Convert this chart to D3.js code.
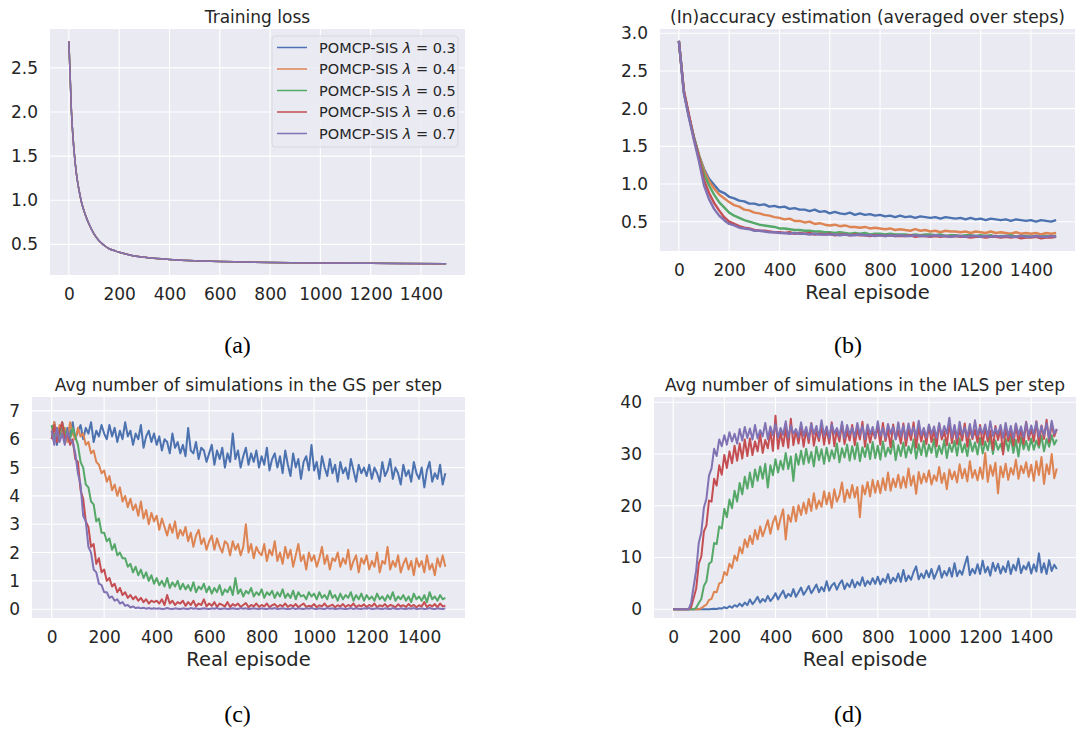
<!DOCTYPE html>
<html>
<head>
<meta charset="utf-8">
<script src="https://cdn.jsdelivr.net/npm/d3@7"></script>
<style>
  body { margin: 0; background: #fff; }
  text { font-family: "DejaVu Sans", sans-serif; fill: #262626; }
  .caption { font-family: "Liberation Serif", "Times New Roman", serif; fill: #000; }
</style>
</head>
<body>
<div id="chart"></div>
<script>
// series names and colours (seaborn deep)
const lambdas = ['0.3', '0.4', '0.5', '0.6', '0.7'];
const colors = ['#4c72b0', '#dd8452', '#55a868', '#c44e52', '#8172b3'];

// (a) training loss, same curve for every lambda
const lossEpisodes = [0, 10, 20, 30, 40, 50, 60, 70, 80, 100, 120, 140, 160, 180, 200, 250, 300, 350, 400, 500, 600, 700, 800, 1000, 1200, 1500];
const lossValues = [2.80, 2.02, 1.58, 1.30, 1.12, 0.98, 0.88, 0.80, 0.73, 0.62, 0.54, 0.49, 0.45, 0.43, 0.41, 0.375, 0.355, 0.34, 0.33, 0.315, 0.305, 0.30, 0.295, 0.29, 0.285, 0.28];

// sampled episodes: every 20 for (b), every 10 for (c) and (d)
const episodes20 = d3.range(0, 1501, 20);
const episodes10 = d3.range(0, 1501, 10);

// (b) inaccuracy estimation
const inacc03 = [2.90, 2.22, 1.90, 1.62, 1.38, 1.20, 1.07, 0.99, 0.91, 0.88, 0.83, 0.81, 0.78, 0.77, 0.74, 0.74, 0.72, 0.73, 0.70, 0.71,
  0.69, 0.70, 0.67, 0.68, 0.66, 0.66, 0.64, 0.66, 0.63, 0.64, 0.61, 0.63, 0.61, 0.60, 0.62, 0.59, 0.61, 0.59, 0.60, 0.58,
  0.59, 0.57, 0.58, 0.56, 0.58, 0.56, 0.57, 0.55, 0.57, 0.56, 0.55, 0.56, 0.54, 0.56, 0.55, 0.54, 0.55, 0.53, 0.55, 0.53,
  0.54, 0.52, 0.54, 0.53, 0.52, 0.53, 0.51, 0.53, 0.52, 0.51, 0.52, 0.50, 0.52, 0.51, 0.50, 0.52];
const inacc04 = [2.90, 2.22, 1.90, 1.62, 1.38, 1.18, 1.04, 0.94, 0.86, 0.81, 0.76, 0.72, 0.70, 0.66, 0.65, 0.62, 0.61, 0.59, 0.58, 0.56,
  0.55, 0.53, 0.54, 0.51, 0.51, 0.49, 0.50, 0.47, 0.48, 0.46, 0.45, 0.46, 0.44, 0.45, 0.43, 0.43, 0.42, 0.43, 0.41, 0.42,
  0.41, 0.40, 0.41, 0.39, 0.40, 0.39, 0.38, 0.40, 0.38, 0.39, 0.37, 0.38, 0.36, 0.38, 0.37, 0.37, 0.36, 0.37, 0.35, 0.37,
  0.36, 0.35, 0.37, 0.35, 0.36, 0.35, 0.34, 0.36, 0.34, 0.35, 0.34, 0.35, 0.33, 0.35, 0.34, 0.35];
const inacc05 = [2.90, 2.22, 1.90, 1.62, 1.37, 1.13, 0.98, 0.86, 0.76, 0.69, 0.62, 0.58, 0.55, 0.52, 0.50, 0.48, 0.46, 0.45, 0.44, 0.43,
  0.41, 0.41, 0.40, 0.39, 0.39, 0.38, 0.38, 0.37, 0.37, 0.36, 0.36, 0.35, 0.36, 0.35, 0.34, 0.35, 0.34, 0.35, 0.33, 0.34,
  0.34, 0.33, 0.34, 0.33, 0.33, 0.33, 0.32, 0.33, 0.32, 0.33, 0.33, 0.32, 0.33, 0.31, 0.32, 0.32, 0.31, 0.32, 0.32, 0.31,
  0.32, 0.31, 0.32, 0.30, 0.31, 0.31, 0.32, 0.30, 0.31, 0.31, 0.30, 0.31, 0.30, 0.31, 0.30, 0.31];
const inacc06 = [2.90, 2.24, 1.92, 1.60, 1.35, 1.05, 0.88, 0.75, 0.65, 0.56, 0.50, 0.47, 0.44, 0.42, 0.41, 0.39, 0.38, 0.38, 0.37, 0.36,
  0.36, 0.35, 0.36, 0.34, 0.35, 0.34, 0.35, 0.33, 0.34, 0.33, 0.34, 0.32, 0.33, 0.33, 0.32, 0.33, 0.32, 0.32, 0.31, 0.32,
  0.32, 0.31, 0.32, 0.31, 0.31, 0.31, 0.32, 0.30, 0.31, 0.31, 0.30, 0.31, 0.30, 0.31, 0.30, 0.31, 0.30, 0.30, 0.29, 0.30,
  0.30, 0.29, 0.30, 0.30, 0.29, 0.30, 0.29, 0.30, 0.28, 0.29, 0.29, 0.30, 0.28, 0.29, 0.29, 0.30];
const inacc07 = [2.90, 2.20, 1.88, 1.58, 1.30, 0.98, 0.80, 0.67, 0.58, 0.52, 0.47, 0.45, 0.42, 0.41, 0.40, 0.38, 0.38, 0.37, 0.36, 0.36,
  0.35, 0.35, 0.34, 0.35, 0.34, 0.34, 0.33, 0.34, 0.33, 0.33, 0.33, 0.33, 0.32, 0.33, 0.32, 0.32, 0.33, 0.32, 0.32, 0.31,
  0.32, 0.31, 0.32, 0.31, 0.32, 0.31, 0.31, 0.32, 0.31, 0.31, 0.31, 0.32, 0.31, 0.31, 0.30, 0.31, 0.31, 0.30, 0.31, 0.31,
  0.30, 0.31, 0.30, 0.31, 0.30, 0.31, 0.30, 0.30, 0.31, 0.30, 0.30, 0.31, 0.30, 0.30, 0.31, 0.30];

// (c) avg number of simulations in the GS per step (every 10 episodes)
const gs03 = [6.0, 6.6, 5.8, 6.3, 6.5, 5.9, 6.4, 6.1, 6.6, 6.0,
  6.3, 6.5, 6.0, 6.4, 6.2, 6.6, 5.9, 6.3, 6.1, 6.5,
  6.2, 6.0, 6.5, 6.1, 6.4, 5.9, 6.3, 6.0, 6.6, 6.1,
  6.3, 5.8, 6.2, 6.0, 6.5, 5.7, 6.1, 6.3, 5.9, 6.2,
  5.8, 6.1, 5.6, 6.0, 5.9, 5.5, 6.2, 5.7, 5.9, 5.5,
  5.8, 5.4, 6.4, 5.6, 5.5, 5.9, 5.3, 5.7, 5.6, 5.2,
  5.5, 5.8, 5.1, 5.6, 5.3, 5.7, 5.0, 5.5, 5.2, 6.2,
  5.3, 5.6, 5.0, 5.4, 5.7, 5.1, 5.5, 5.2, 5.6, 5.0,
  5.4, 5.1, 5.7, 4.9, 5.3, 5.5, 5.0, 5.4, 4.8, 5.6,
  5.1, 4.7, 5.5, 5.0, 5.3, 4.6, 5.2, 5.4, 4.9, 5.8,
  4.9, 5.2, 4.6, 5.4, 5.0, 4.7, 5.3, 4.8, 5.1, 4.5,
  5.2, 4.8, 5.0, 4.6, 5.3, 4.9, 4.5, 5.1, 4.8, 5.0,
  4.7, 5.1, 4.6, 5.0, 4.8, 4.5, 5.2, 4.7, 4.9, 5.3,
  4.6, 5.0, 4.8, 4.4, 5.1, 4.7, 4.9, 4.5, 5.2, 4.8,
  4.6, 5.0, 4.3, 4.9, 5.2, 4.5, 4.8, 4.6, 5.1, 4.4,
  4.8];
const gs04 = [6.2, 6.6, 6.0, 6.5, 6.1, 6.4, 5.9, 6.6, 6.2, 6.0,
  6.4, 6.1, 6.2, 5.8, 5.9, 5.5, 5.6, 5.2, 5.1, 4.8,
  4.9, 4.5, 4.7, 4.2, 4.4, 4.0, 4.3, 3.8, 4.0, 3.6,
  3.9, 3.5, 3.7, 3.3, 3.8, 3.2, 3.5, 3.0, 3.4, 3.1,
  3.3, 2.8, 3.2, 2.9, 2.6, 3.0, 2.7, 3.1, 2.5, 2.8,
  2.6, 2.9, 2.4, 2.7, 2.2, 2.6, 2.8, 2.3, 2.5, 2.1,
  2.4, 2.6, 2.1, 2.5, 2.2, 2.0, 2.4, 2.3, 1.9, 2.4,
  2.1, 2.3, 1.9, 2.2, 3.0, 2.0, 2.3, 1.8, 2.2, 2.0,
  1.9, 2.3, 1.7, 2.1, 1.9, 2.4, 1.7, 2.0, 1.6, 2.2,
  1.8, 2.1, 1.5, 1.9, 2.3, 1.7, 1.9, 1.4, 2.0, 1.7,
  1.9, 1.5, 1.8, 2.2, 1.6, 1.9, 1.4, 1.8, 1.7, 2.0,
  1.5, 1.8, 1.6, 2.1, 1.4, 1.7, 1.9, 1.3, 1.8, 1.6,
  1.9, 1.4, 1.7, 1.5, 2.0, 1.3, 1.7, 1.6, 2.2, 1.4,
  1.7, 1.5, 1.9, 1.3, 1.6, 1.8, 1.4, 1.7, 1.2, 1.8,
  1.5, 1.7, 1.3, 1.9, 1.4, 1.6, 1.2, 1.8, 1.5, 1.9,
  1.5];
const gs05 = [6.5, 6.0, 6.4, 6.1, 6.6, 6.2, 6.3, 6.0, 6.4, 6.1,
  5.8, 5.2, 5.0, 4.4, 4.3, 3.8, 3.7, 3.1, 3.2, 2.7,
  2.7, 2.4, 2.5, 2.1, 2.3, 1.9, 2.0, 1.8, 1.8, 1.5,
  1.6, 1.3, 1.5, 1.2, 1.4, 1.1, 1.3, 1.0, 1.2, 0.9,
  1.1, 0.85, 1.0, 0.8, 1.1, 0.75, 0.95, 0.8, 1.0, 0.7,
  0.9, 0.7, 0.85, 0.65, 0.95, 0.6, 0.8, 0.7, 0.9, 0.6,
  0.8, 0.55, 0.75, 0.6, 0.85, 0.5, 0.7, 0.6, 0.8, 0.5,
  1.1, 0.55, 0.7, 0.45, 0.65, 0.55, 0.75, 0.45, 0.6, 0.5,
  0.7, 0.4, 0.6, 0.5, 0.65, 0.4, 0.6, 0.45, 0.7, 0.4,
  0.55, 0.4, 0.65, 0.35, 0.6, 0.45, 0.5, 0.35, 0.6, 0.45,
  0.55, 0.35, 0.6, 0.4, 0.5, 0.35, 0.65, 0.4, 0.5, 0.3,
  0.55, 0.35, 0.5, 0.4, 0.6, 0.3, 0.5, 0.35, 0.55, 0.3,
  0.5, 0.35, 0.45, 0.3, 0.55, 0.35, 0.45, 0.3, 0.5, 0.35,
  0.6, 0.3, 0.45, 0.35, 0.5, 0.3, 0.45, 0.25, 0.55, 0.35,
  0.45, 0.3, 0.5, 0.25, 0.6, 0.35, 0.45, 0.3, 0.5, 0.35,
  0.4];
const gs06 = [6.0, 6.5, 5.9, 6.3, 6.6, 6.0, 6.2, 5.8, 6.0, 5.3,
  5.2, 4.2, 3.9, 3.1, 2.9, 2.2, 2.3, 1.6, 1.8, 1.3,
  1.4, 1.0, 1.1, 0.8, 0.9, 0.6, 0.75, 0.5, 0.6, 0.4,
  0.5, 0.35, 0.45, 0.3, 0.4, 0.25, 0.35, 0.2, 0.3, 0.25,
  0.3, 0.2, 0.35, 0.15, 0.5, 0.2, 0.3, 0.15, 0.25, 0.2,
  0.3, 0.12, 0.25, 0.15, 0.3, 0.1, 0.2, 0.15, 0.35, 0.1,
  0.2, 0.12, 0.25, 0.08, 0.2, 0.15, 0.1, 0.25, 0.08, 0.18,
  0.12, 0.2, 0.08, 0.15, 0.22, 0.07, 0.15, 0.1, 0.2, 0.08,
  0.15, 0.1, 0.2, 0.07, 0.14, 0.18, 0.08, 0.15, 0.1, 0.2,
  0.08, 0.15, 0.1, 0.18, 0.07, 0.14, 0.2, 0.08, 0.12, 0.1,
  0.18, 0.07, 0.14, 0.1, 0.2, 0.08, 0.12, 0.16, 0.07, 0.14,
  0.1, 0.18, 0.08, 0.15, 0.1, 0.2, 0.07, 0.14, 0.1, 0.17,
  0.08, 0.15, 0.1, 0.2, 0.07, 0.14, 0.1, 0.18, 0.08, 0.15,
  0.12, 0.07, 0.17, 0.1, 0.14, 0.08, 0.18, 0.1, 0.15, 0.07,
  0.14, 0.1, 0.25, 0.08, 0.15, 0.1, 0.18, 0.07, 0.2, 0.1,
  0.12];
const gs07 = [6.3, 5.8, 6.4, 5.9, 6.2, 5.8, 6.3, 6.0, 5.9, 5.5,
  4.8, 4.4, 3.3, 3.1, 2.2, 2.0, 1.4, 1.3, 0.9, 0.85,
  0.6, 0.6, 0.4, 0.45, 0.3, 0.35, 0.2, 0.25, 0.12, 0.15,
  0.06, 0.1, 0.04, 0.06, 0.03, 0.05, 0.02, 0.04, 0.02, 0.03,
  0.02, 0.03, 0.01, 0.02, 0.04, 0.02, 0.01, 0.03, 0.02, 0.01,
  0.03, 0.02, 0.01, 0.04, 0.02, 0.03, 0.01, 0.02, 0.03, 0.02,
  0.01, 0.03, 0.02, 0.04, 0.01, 0.02, 0.03, 0.01, 0.02, 0.03,
  0.02, 0.01, 0.04, 0.02, 0.03, 0.01, 0.02, 0.03, 0.02, 0.01,
  0.03, 0.02, 0.01, 0.03, 0.02, 0.04, 0.01, 0.02, 0.03, 0.02,
  0.01, 0.02, 0.04, 0.01, 0.03, 0.02, 0.01, 0.03, 0.02, 0.04,
  0.02, 0.01, 0.03, 0.02, 0.01, 0.04, 0.02, 0.03, 0.01, 0.02,
  0.03, 0.02, 0.01, 0.02, 0.04, 0.01, 0.03, 0.02, 0.01, 0.03,
  0.02, 0.04, 0.01, 0.02, 0.03, 0.02, 0.01, 0.03, 0.02, 0.01,
  0.04, 0.02, 0.01, 0.03, 0.02, 0.01, 0.03, 0.02, 0.04, 0.01,
  0.02, 0.03, 0.01, 0.02, 0.04, 0.02, 0.01, 0.03, 0.02, 0.01,
  0.03];

// (d) avg number of simulations in the IALS per step (every 10 episodes)
const ials03 = [0, 0, 0, 0, 0, 0, 0, 0, 0, 0,
  0, 0, 0, 0, 0, 0.05, 0.1, 0.05, 0.2, 0.15,
  0.4, 0.2, 0.6, 0.3, 0.8, 0.5, 1.1, 0.6, 1.3, 0.8,
  1.9, 1.0, 1.6, 2.4, 1.3, 2.0, 1.5, 2.6, 1.6, 2.2,
  3.1, 1.9, 2.8, 3.6, 2.2, 3.0, 2.5, 3.9, 2.4, 3.3,
  4.2, 2.8, 3.6, 4.5, 3.1, 3.9, 4.8, 3.3, 4.3, 3.5,
  5.4, 3.6, 4.6, 5.1, 3.8, 4.9, 5.6, 3.9, 5.0, 4.3,
  5.7, 4.2, 5.3, 4.6, 6.2, 4.5, 5.5, 4.8, 6.0, 4.9,
  6.3, 4.8, 5.9, 5.2, 6.8, 5.0, 6.1, 5.4, 6.9, 5.3,
  7.6, 5.4, 6.5, 5.7, 7.2, 8.3, 5.8, 6.9, 6.0, 7.5,
  6.2, 7.8, 5.9, 7.1, 8.4, 6.1, 7.4, 6.5, 8.0, 6.3,
  8.9, 6.4, 7.5, 6.7, 8.6, 10.2, 6.6, 7.8, 6.9, 8.7,
  6.8, 9.4, 7.1, 8.2, 6.5, 9.0, 7.4, 8.8, 6.9, 8.3,
  7.2, 9.3, 6.8, 8.6, 7.5, 9.8, 7.0, 8.4, 7.7, 9.1,
  6.9, 8.7, 7.3, 10.8, 7.1, 8.9, 6.8, 9.5, 7.4, 8.6,
  7.8];
const ials04 = [0, 0, 0, 0, 0, 0, 0, 0, 0, 0,
  0, 0.2, 0.6, 0.9, 1.8, 2.0, 3.4, 3.3, 5.0, 5.2,
  7.2, 6.6, 8.8, 8.0, 10.4, 9.4, 12.0, 10.8, 13.5, 12.0,
  14.2, 12.6, 15.3, 13.5, 16.0, 14.1, 15.6, 17.2, 14.6, 16.8,
  18.0, 15.4, 17.6, 19.3, 13.5, 18.2, 16.9, 19.8, 17.0, 20.1,
  18.2, 20.6, 18.5, 21.3, 19.0, 22.4, 19.4, 21.0, 19.8, 22.8,
  20.3, 22.5, 19.6, 23.2, 20.8, 22.0, 24.5, 20.7, 23.1, 21.5,
  24.0, 21.6, 23.6, 17.8, 23.9, 22.2, 24.6, 21.8, 25.0, 22.5,
  24.8, 22.4, 25.3, 23.0, 26.4, 22.9, 25.2, 23.6, 26.0, 23.4,
  25.6, 23.5, 27.2, 23.9, 25.8, 22.3, 26.5, 24.3, 26.2, 24.6,
  26.8, 24.1, 25.9, 24.8, 27.5, 24.4, 26.3, 23.2, 27.0, 25.1,
  26.6, 24.5, 28.0, 25.3, 27.1, 24.7, 28.6, 25.4, 26.9, 24.9,
  27.4, 25.2, 30.2, 24.6, 27.8, 25.8, 28.3, 22.4, 27.6, 25.5,
  28.1, 25.0, 27.3, 26.0, 28.9, 25.2, 27.7, 26.3, 28.4, 25.6,
  27.9, 24.8, 28.6, 25.9, 29.4, 24.2, 28.0, 26.1, 30.0, 25.3,
  27.2];
const ials05 = [0, 0, 0, 0, 0, 0, 0, 0, 0, 0.3,
  1.2, 2.0, 4.5, 5.4, 8.8, 9.2, 12.8, 12.6, 16.0, 15.6,
  19.4, 17.8, 21.2, 19.5, 22.9, 20.8, 24.4, 22.2, 25.6, 23.3,
  26.4, 23.6, 27.0, 24.8, 27.6, 25.2, 28.1, 23.5, 27.8, 25.9,
  29.0, 26.4, 28.7, 27.0, 30.2, 27.1, 29.5, 24.8, 30.0, 27.9,
  30.6, 28.0, 31.0, 28.3, 30.4, 27.6, 31.4, 28.8, 30.9, 28.1,
  31.2, 28.6, 30.7, 29.1, 32.0, 28.4, 31.1, 29.3, 31.8, 28.7,
  31.5, 29.0, 32.1, 28.6, 31.3, 29.4, 31.9, 29.0, 32.3, 29.2,
  31.6, 28.9, 32.4, 29.5, 31.2, 30.0, 32.6, 28.8, 31.7, 29.6,
  32.2, 29.3, 31.5, 30.1, 32.8, 29.1, 31.9, 29.8, 32.5, 29.5,
  31.8, 30.2, 32.9, 29.4, 31.6, 30.0, 32.7, 29.2, 32.0, 30.4,
  32.5, 29.7, 33.0, 30.3, 31.9, 29.6, 32.8, 30.5, 32.2, 29.9,
  33.1, 30.1, 32.4, 30.7, 33.3, 30.0, 32.6, 30.8, 31.9, 30.3,
  32.9, 30.6, 33.4, 30.2, 32.7, 29.5, 33.2, 30.9, 32.5, 30.7,
  33.0, 30.8, 32.6, 31.2, 33.5, 30.5, 32.9, 31.4, 33.6, 31.8,
  32.8];
const ials06 = [0, 0, 0, 0, 0, 0, 0, 0.4, 2.2, 4.0,
  8.8, 10.2, 15.0, 16.2, 21.0, 20.8, 25.2, 23.9, 27.8, 26.0,
  29.8, 27.3, 30.5, 28.2, 31.6, 28.7, 32.0, 29.1, 32.8, 29.6,
  33.0, 29.8, 32.4, 30.5, 33.9, 30.2, 32.7, 31.1, 34.5, 30.6,
  37.4, 31.0, 34.2, 31.5, 35.0, 31.2, 36.8, 31.7, 34.6, 32.0,
  35.2, 31.4, 34.8, 32.1, 36.0, 31.6, 34.4, 32.5, 35.5, 31.8,
  35.0, 32.0, 36.1, 31.5, 34.7, 32.4, 35.8, 31.9, 34.5, 32.6,
  35.6, 31.7, 34.9, 32.8, 36.2, 31.4, 35.1, 32.2, 34.6, 33.0,
  35.4, 31.8, 36.0, 32.5, 34.8, 31.3, 35.7, 32.9, 34.5, 32.0,
  35.9, 31.6, 34.7, 32.7, 36.1, 31.2, 35.2, 32.4, 34.9, 31.9,
  35.5, 32.3, 34.6, 31.5, 35.8, 32.8, 34.4, 31.7, 36.0, 32.1,
  35.3, 31.9, 34.8, 32.6, 35.9, 31.4, 35.0, 32.9, 34.7, 32.2,
  35.6, 31.8, 35.1, 32.4, 34.5, 30.8, 35.4, 32.7, 34.9, 29.9,
  35.2, 32.5, 34.6, 31.6, 35.7, 32.2, 34.8, 31.9, 36.2, 32.7,
  35.0, 32.4, 36.3, 31.8, 35.5, 32.9, 36.6, 32.3, 35.9, 33.4,
  34.8];
const ials07 = [0, 0, 0, 0, 0, 0, 0, 1.2, 4.4, 7.5,
  12.8, 14.9, 19.6, 21.4, 25.8, 27.2, 31.0, 29.6, 32.8, 31.5,
  33.6, 31.8, 34.2, 32.4, 33.9, 32.0, 34.8, 32.6, 35.2, 33.1,
  34.9, 32.8, 35.6, 33.0, 34.6, 33.4, 36.0, 32.9, 35.3, 33.6,
  35.8, 33.2, 35.0, 33.7, 36.3, 33.1, 35.5, 33.9, 34.8, 33.3,
  36.1, 33.5, 35.2, 33.0, 35.9, 33.8, 35.4, 33.2, 36.5, 33.6,
  35.3, 33.1, 35.8, 33.9, 35.0, 33.4, 36.2, 33.0, 35.6, 33.7,
  35.1, 33.3, 36.0, 33.6, 35.4, 32.9, 35.7, 33.8, 35.2, 33.2,
  36.3, 33.5, 35.0, 33.1, 35.8, 33.9, 35.3, 32.8, 36.1, 33.4,
  35.5, 33.0, 35.9, 33.7, 35.2, 33.3, 36.4, 33.6, 35.0, 33.2,
  35.7, 33.8, 35.3, 33.1, 36.0, 33.5, 35.4, 33.9, 37.0, 33.3,
  35.6, 33.0, 36.2, 33.7, 35.1, 33.4, 35.8, 33.2, 36.5, 33.6,
  35.2, 33.9, 35.7, 33.3, 36.3, 33.5, 35.0, 33.8, 35.6, 33.1,
  36.0, 33.4, 35.4, 33.0, 35.9, 33.7, 35.3, 33.2, 36.1, 33.5,
  35.5, 33.8, 36.2, 33.3, 35.4, 33.6, 35.9, 33.0, 36.4, 33.9,
  34.8];

// tick values
const xTicks = [0, 200, 400, 600, 800, 1000, 1200, 1400];
const lossTicks = [0.5, 1.0, 1.5, 2.0, 2.5];
const inaccTicks = [0.5, 1.0, 1.5, 2.0, 2.5, 3.0];
const gsTicks = [0, 1, 2, 3, 4, 5, 6, 7];
const ialsTicks = [0, 10, 20, 30, 40];

const W = 1083, H = 730;
const svg = d3.select('#chart').append('svg')
    .attr('width', W)
    .attr('height', H)
    .style('display', 'block');

function panel(p) {
    const x = d3.scaleLinear().domain([-75, 1575]).range([p.left, p.right]);
    const y = d3.scaleLinear().domain(p.yDomain).range([p.bottom, p.top]);
    const g = svg.append('g');

    g.append('rect')
        .attr('x', p.left).attr('y', p.top)
        .attr('width', p.right - p.left).attr('height', p.bottom - p.top)
        .attr('fill', '#eaeaf2');

    // grid
    g.selectAll('.gx').data(xTicks).join('line')
        .attr('x1', d => x(d)).attr('x2', d => x(d))
        .attr('y1', p.top).attr('y2', p.bottom)
        .attr('stroke', '#fff').attr('stroke-width', 1.1);
    g.selectAll('.gy').data(p.yTicks).join('line')
        .attr('x1', p.left).attr('x2', p.right)
        .attr('y1', d => y(d)).attr('y2', d => y(d))
        .attr('stroke', '#fff').attr('stroke-width', 1.1);

    // lines, purple drawn last
    const line = d3.line()
        .defined(d => d[1] != null)
        .x(d => x(d[0]))
        .y(d => y(d[1]));
    if (p.curve) line.curve(p.curve);
    p.series.forEach((s, i) => {
        g.append('path')
            .datum(p.xs.map((e, k) => [e, s[k]]))
            .attr('d', line)
            .attr('fill', 'none')
            .attr('stroke', colors[i])
            .attr('stroke-width', p.lineWidth || 1.5)
            .attr('stroke-linejoin', 'round');
    });

    // axes
    const ax = g.append('g')
        .attr('transform', `translate(0,${p.bottom})`)
        .call(d3.axisBottom(x).tickValues(xTicks).tickSize(0).tickPadding(12.5).tickFormat(d3.format('d')));
    const ay = g.append('g')
        .attr('transform', `translate(${p.left},0)`)
        .call(d3.axisLeft(y).tickValues(p.yTicks).tickSize(0).tickPadding(12).tickFormat(p.yFormat));
    [ax, ay].forEach(a => {
        a.select('.domain').remove();
        a.selectAll('text')
            .attr('fill', '#222')
            .style('font-family', '"DejaVu Sans", sans-serif')
            .style('font-size', '17px');
    });

    g.append('text')
        .attr('x', (p.left + p.right) / 2)
        .attr('y', p.top - 6.5)
        .attr('text-anchor', 'middle')
        .style('font-size', '17px')
        .text(p.title);

    if (p.xLabel) {
        g.append('text')
            .attr('x', (p.left + p.right) / 2)
            .attr('y', p.bottom + 47.5)
            .attr('text-anchor', 'middle')
            .style('font-size', '19.5px')
            .text(p.xLabel);
    }

    svg.append('text')
        .attr('class', 'caption')
        .attr('x', p.capX)
        .attr('y', p.capY)
        .attr('text-anchor', 'middle')
        .style('font-size', '24px')
        .text(p.caption);

    return { x, y, g };
}

// (a)
const pa = panel({
    left: 50, right: 465, top: 29, bottom: 275,
    yDomain: [0.153, 2.94], yTicks: lossTicks, yFormat: d3.format('.1f'),
    xs: lossEpisodes,
    series: lambdas.map(() => lossValues),
    curve: d3.curveMonotoneX,
    title: 'Training loss',
    caption: '(a)', capX: 237.5, capY: 353
});

// (b)
panel({
    left: 660, right: 1075, top: 29, bottom: 251,
    yDomain: [0.111, 3.057], yTicks: inaccTicks, yFormat: d3.format('.1f'),
    xs: episodes20,
    series: [inacc03, inacc04, inacc05, inacc06, inacc07],
    lineWidth: 2.4,
    title: '(In)accuracy estimation (averaged over steps)',
    xLabel: 'Real episode',
    caption: '(b)', capX: 848, capY: 353
});

// (c)
panel({
    left: 32, right: 465, top: 397, bottom: 618,
    yDomain: [-0.31, 7.49], yTicks: gsTicks, yFormat: d3.format('d'),
    xs: episodes10,
    series: [gs03, gs04, gs05, gs06, gs07],
    lineWidth: 2,
    title: 'Avg number of simulations in the GS per step',
    xLabel: 'Real episode',
    caption: '(c)', capX: 237.5, capY: 722
});

// (d)
panel({
    left: 654, right: 1076, top: 397, bottom: 618,
    yDomain: [-1.68, 41.0], yTicks: ialsTicks, yFormat: d3.format('d'),
    xs: episodes10,
    series: [ials03, ials04, ials05, ials06, ials07],
    lineWidth: 2,
    title: 'Avg number of simulations in the IALS per step',
    xLabel: 'Real episode',
    caption: '(d)', capX: 848, capY: 722
});

// legend in (a)
const legend = pa.g.append('g');
legend.append('rect')
    .attr('x', 272).attr('y', 36)
    .attr('width', 186).attr('height', 111)
    .attr('rx', 3)
    .attr('fill', '#eaeaf2')
    .attr('fill-opacity', 0.8)
    .attr('stroke', '#d8d8e2')
    .attr('stroke-width', 1);
lambdas.forEach((lam, i) => {
    const ly = 47.5 + i * 21.5;
    legend.append('line')
        .attr('x1', 277).attr('x2', 307)
        .attr('y1', ly).attr('y2', ly)
        .attr('stroke', colors[i]).attr('stroke-width', 1.5);
    const t = legend.append('text')
        .attr('x', 319).attr('y', ly + 5)
        .style('font-size', '14.5px');
    t.append('tspan').text('POMCP-SIS ');
    t.append('tspan').style('font-style', 'italic').text('λ');
    t.append('tspan').text(' = ' + lam);
});
</script>
</body>
</html>
